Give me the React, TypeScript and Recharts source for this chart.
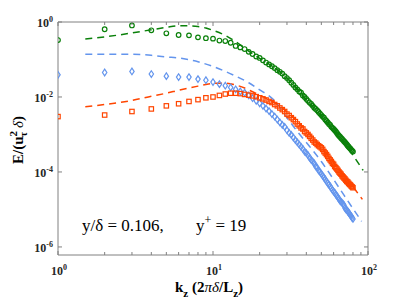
import { LineChart, Line, XAxis, YAxis } from "recharts";

// spanwise wavenumber k_z (2*pi*delta/L_z), one marker per integer mode
const kz = [
  1, 2, 3, 4, 5, 6, 7, 8, 9, 10, 11, 12, 13, 14, 15, 16, 17, 18, 19, 20,
  21, 22, 23, 24, 25, 26, 27, 28, 29, 30, 31, 32, 33, 34, 35, 36, 37, 38, 39, 40,
  41, 42, 43, 44, 45, 46, 47, 48, 49, 50, 51, 52, 53, 54, 55, 56, 57, 58, 59, 60,
  61, 62, 63, 64, 65, 66, 67, 68, 69, 70, 71, 72, 73, 74, 75, 76, 77, 78, 79, 80,
];

// E/(u_tau^2 delta)
const greenE = [
  0.33, 0.64, 0.81, 0.6, 0.5, 0.45, 0.44, 0.39, 0.37, 0.36,
  0.32, 0.31, 0.28, 0.23, 0.21, 0.19, 0.16, 0.14, 0.12, 0.11,
  0.095, 0.083, 0.074, 0.066, 0.059, 0.052, 0.047, 0.042, 0.036, 0.032,
  0.028, 0.024, 0.021, 0.018, 0.016, 0.014, 0.013, 0.011, 0.01, 0.0089,
  0.0079, 0.0071, 0.0065, 0.0058, 0.0052, 0.0048, 0.0044, 0.004, 0.0036, 0.0033,
  0.003, 0.0028, 0.0025, 0.0023, 0.0021, 0.0019, 0.0018, 0.0016, 0.0015, 0.0014,
  0.0013, 0.0012, 0.0011, 0.001, 0.00093, 0.00087, 0.00081, 0.00076, 0.00071, 0.00066,
  0.00062, 0.00058, 0.00054, 0.0005, 0.00047, 0.00044, 0.00042, 0.00039, 0.00037, 0.00035,
];
const blueE = [
  0.039, 0.045, 0.048, 0.041, 0.036, 0.034, 0.034, 0.03, 0.028, 0.025,
  0.022, 0.02, 0.018, 0.016, 0.014, 0.013, 0.011, 0.0093, 0.0079, 0.0068,
  0.0058, 0.0049, 0.0042, 0.0035, 0.003, 0.0025, 0.0021, 0.0018, 0.0016, 0.0013,
  0.0011, 0.00098, 0.00083, 0.00071, 0.00062, 0.00054, 0.00047, 0.00041, 0.00035, 0.00032,
  0.00028, 0.00024, 0.00021, 0.00019, 0.00017, 0.00014, 0.00013, 0.00011, 0.0001, 0.000089,
  0.000079, 0.000071, 0.000063, 0.000056, 0.00005, 0.000046, 0.000041, 0.000037, 0.000033, 0.00003,
  0.000028, 0.000025, 0.000023, 0.000021, 0.000019, 0.000017, 0.000016, 0.000015, 0.000014, 0.000013,
  0.000011, 0.00001, 0.0000098, 0.0000089, 0.0000083, 0.0000076, 0.0000071, 0.0000065, 0.000006, 0.0000056,
];
const orangeE = [
  0.003, 0.0033, 0.0041, 0.0048, 0.0058, 0.0066, 0.0076, 0.0085, 0.0095, 0.01,
  0.011, 0.012, 0.0126, 0.0126, 0.0123, 0.0117, 0.0112, 0.0107, 0.0102, 0.0095,
  0.0089, 0.0083, 0.0076, 0.0071, 0.0063, 0.0058, 0.0051, 0.0046, 0.0041, 0.0035,
  0.0032, 0.0028, 0.0025, 0.0022, 0.0019, 0.0017, 0.0015, 0.0014, 0.0012, 0.0011,
  0.001, 0.00089, 0.00079, 0.00071, 0.00063, 0.00059, 0.00054, 0.0005, 0.00047, 0.00044,
  0.0004, 0.00035, 0.00032, 0.00029, 0.00026, 0.00023, 0.00021, 0.00019, 0.00017, 0.00016,
  0.00014, 0.00013, 0.00012, 0.00011, 0.0001, 0.000093, 0.000087, 0.000079, 0.000074, 0.000069,
  0.000065, 0.00006, 0.000056, 0.000054, 0.00005, 0.000047, 0.000045, 0.000042, 0.00004, 0.000038,
];

// dashed reference curves
const greenDashK = [1.5, 2, 3, 4, 5, 6, 7, 8, 9, 10, 12, 14, 16, 20, 25, 30, 40, 50, 60, 70, 80, 93];
const greenDashE = [
  0.35, 0.4, 0.51, 0.62, 0.72, 0.79, 0.79, 0.76, 0.69, 0.6, 0.44, 0.3, 0.2, 0.107,
  0.06, 0.032, 0.0085, 0.0032, 0.0013, 0.0006, 0.00028, 0.00011,
];
const blueDashK = [1.5, 2, 3, 4, 5, 6, 7, 8, 10, 12, 14, 17, 20, 23, 25, 30, 35, 42, 50, 54, 60, 70, 80, 91];
const blueDashE = [
  0.138, 0.138, 0.138, 0.129, 0.117, 0.11, 0.098, 0.087, 0.065, 0.048, 0.036, 0.024,
  0.0155, 0.0107, 0.0079, 0.0028, 0.0012, 0.00048, 0.00019, 0.00012, 0.000063,
  0.000024, 0.0000105, 0.0000048,
];
const orangeDashK = [1.5, 2, 3, 4, 5, 6, 7, 8, 10, 12, 14, 16, 18, 20, 22, 25, 30, 35, 40, 50, 60, 70, 80, 92];
const orangeDashE = [
  0.0055, 0.0063, 0.0081, 0.0105, 0.0126, 0.0151, 0.0174, 0.0195, 0.023, 0.0234,
  0.0209, 0.0174, 0.0138, 0.0112, 0.0093, 0.0071, 0.004, 0.0022, 0.00126, 0.00045,
  0.000178, 0.000079, 0.00004, 0.0000186,
];

const xTicks = [1, 2, 3, 4, 5, 6, 7, 8, 9, 10, 20, 30, 40, 50, 60, 70, 80, 90, 100];
const yTicks = [1, 1e-2, 1e-4, 1e-6];

const GREEN = "#0a800a";
const BLUE = "#6495ed";
const ORANGE = "#ff4500";
const AXIS = "#808080";
const FONT = "'Liberation Serif', 'DejaVu Serif', serif";

const zip = (k: number[], e: number[]) => k.map((x, i) => ({ k: x, E: e[i] }));
const greenPts = zip(kz, greenE);
const bluePts = zip(kz, blueE);
const orangePts = zip(kz, orangeE);

const isDecade = (v: number) => Math.abs(Math.log10(v) - Math.round(Math.log10(v))) < 1e-9;
const expOf = (v: number) => Math.round(Math.log10(v));

function Pow({ x, y, v, anchor }: { x: number; y: number; v: number; anchor: "end" | "middle" }) {
  return (
    <text x={x} y={y} textAnchor={anchor} fontFamily={FONT} fontWeight="bold" fontSize={12} fill="#262626">
      10
      <tspan dy={-5} fontSize={8}>
        {expOf(v)}
      </tspan>
    </text>
  );
}

function BottomTick(p: any) {
  const v = p.payload.value;
  const major = isDecade(v);
  return (
    <g>
      <line x1={p.x} x2={p.x} y1={p.y} y2={p.y - (major ? 4 : 3)} stroke={AXIS} />
      {major && <Pow x={p.x + 1} y={p.y + 20} v={v} anchor="middle" />}
    </g>
  );
}

function TopTick(p: any) {
  const major = isDecade(p.payload.value);
  return <line x1={p.x} x2={p.x} y1={p.y} y2={p.y + (major ? 4 : 3)} stroke={AXIS} />;
}

function LeftTick(p: any) {
  return (
    <g>
      <line x1={p.x} x2={p.x + 4} y1={p.y} y2={p.y} stroke={AXIS} />
      <Pow x={p.x - 5} y={p.y + 5} v={p.payload.value} anchor="end" />
    </g>
  );
}

function RightTick(p: any) {
  return <line x1={p.x} x2={p.x - 4} y1={p.y} y2={p.y} stroke={AXIS} />;
}

const circleDot = (p: any) =>
  p.cx == null ? <g key={p.index} /> : (
    <circle key={p.index} cx={p.cx} cy={p.cy} r={2.3} fill="none" stroke={GREEN} strokeWidth={1.2} />
  );
const diamondDot = (p: any) =>
  p.cx == null ? <g key={p.index} /> : (
    <path
      key={p.index}
      d={`M${p.cx},${p.cy - 3.3}L${p.cx + 2.2},${p.cy}L${p.cx},${p.cy + 3.3}L${p.cx - 2.2},${p.cy}Z`}
      fill="none"
      stroke={BLUE}
      strokeWidth={1.2}
    />
  );
const squareDot = (p: any) =>
  p.cx == null ? <g key={p.index} /> : (
    <rect key={p.index} x={p.cx - 2.2} y={p.cy - 2.2} width={4.4} height={4.4} fill="none" stroke={ORANGE} strokeWidth={1.2} />
  );

export default function App() {
  return (
    <div style={{ position: "absolute", left: 0, top: 0, width: 407, height: 305, background: "#fff" }}>
      <LineChart width={407} height={305} margin={{ top: 0, right: 0, bottom: 0, left: 0 }}>
        <XAxis
          xAxisId="b"
          dataKey="k"
          type="number"
          scale="log"
          domain={[1, 100]}
          allowDataOverflow
          ticks={xTicks}
          interval={0}
          height={50}
          tickSize={0}
          tickMargin={0}
          stroke={AXIS}
          tick={<BottomTick />}
        />
        <XAxis
          xAxisId="t"
          orientation="top"
          dataKey="k"
          type="number"
          scale="log"
          domain={[1, 100]}
          allowDataOverflow
          ticks={xTicks}
          interval={0}
          height={22}
          tickSize={0}
          tickMargin={0}
          stroke={AXIS}
          tick={<TopTick />}
        />
        <YAxis
          yAxisId="l"
          type="number"
          scale="log"
          domain={[6.1e-7, 1]}
          allowDataOverflow
          ticks={yTicks}
          interval={0}
          width={58}
          tickSize={0}
          tickMargin={0}
          stroke={AXIS}
          tick={<LeftTick />}
        />
        <YAxis
          yAxisId="r"
          orientation="right"
          type="number"
          scale="log"
          domain={[6.1e-7, 1]}
          allowDataOverflow
          ticks={yTicks}
          interval={0}
          width={39}
          tickSize={0}
          tickMargin={0}
          stroke={AXIS}
          tick={<RightTick />}
        />
        <Line xAxisId="b" yAxisId="l" data={greenPts} dataKey="E" stroke="none" dot={circleDot} activeDot={false} isAnimationActive={false} />
        <Line xAxisId="b" yAxisId="l" data={bluePts} dataKey="E" stroke="none" dot={diamondDot} activeDot={false} isAnimationActive={false} />
        <Line xAxisId="b" yAxisId="l" data={orangePts} dataKey="E" stroke="none" dot={squareDot} activeDot={false} isAnimationActive={false} />
        <Line xAxisId="b" yAxisId="l" data={zip(greenDashK, greenDashE)} dataKey="E" type="monotone" stroke={GREEN} strokeWidth={1.5} strokeDasharray="7 5" dot={false} activeDot={false} isAnimationActive={false} />
        <Line xAxisId="b" yAxisId="l" data={zip(blueDashK, blueDashE)} dataKey="E" type="monotone" stroke={BLUE} strokeWidth={1.5} strokeDasharray="7 5" dot={false} activeDot={false} isAnimationActive={false} />
        <Line xAxisId="b" yAxisId="l" data={zip(orangeDashK, orangeDashE)} dataKey="E" type="monotone" stroke={ORANGE} strokeWidth={1.5} strokeDasharray="7 5" dot={false} activeDot={false} isAnimationActive={false} />
      </LineChart>
      <svg width={407} height={305} style={{ position: "absolute", left: 0, top: 0, pointerEvents: "none" }}>
        <text x={82} y={231} fontFamily={FONT} fontSize={17} fill="#000">
          y/δ = 0.106,
        </text>
        <text x={196} y={231} fontFamily={FONT} fontSize={17} fill="#000">
          y<tspan dy={-7} fontSize={12}>+</tspan>
          <tspan dy={7}> = 19</tspan>
        </text>
        <text x={175} y={292} fontFamily={FONT} fontWeight="bold" fontSize={15} fill="#000">
          k<tspan dy={5} fontSize={11}>z</tspan>
          <tspan dy={-5}> (2</tspan>
          <tspan fontStyle="italic" fontWeight="normal">πδ</tspan>
          <tspan>/L</tspan>
          <tspan dy={5} fontSize={11}>z</tspan>
          <tspan dy={-5}>)</tspan>
        </text>
        <text transform="translate(23,140) rotate(-90)" textAnchor="middle" fontFamily={FONT} fontWeight="bold" fontSize={15} fill="#000">
          E/(u
          <tspan dy={-6} fontSize={11}>2</tspan>
          <tspan dx={-6} dy={10} fontSize={11}>τ</tspan>
          <tspan dy={-4} fontStyle="italic" fontWeight="normal"> δ</tspan>
          <tspan>)</tspan>
        </text>
      </svg>
    </div>
  );
}
